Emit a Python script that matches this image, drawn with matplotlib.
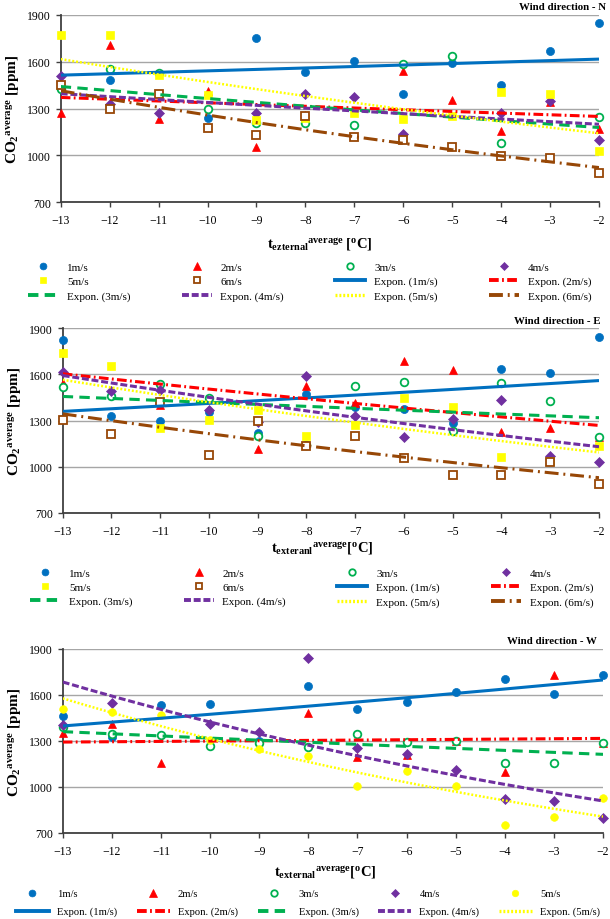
import numpy as np
import matplotlib
matplotlib.use('Agg')
import matplotlib.pyplot as plt
from matplotlib.lines import Line2D

plt.rcParams['font.family'] = ['Liberation Serif', 'DejaVu Serif']
plt.rcParams['mathtext.fontset'] = 'custom'
plt.rcParams['mathtext.rm'] = 'Liberation Serif:bold'
plt.rcParams['mathtext.it'] = 'Liberation Serif:bold'
plt.rcParams['mathtext.bf'] = 'Liberation Serif:bold'
plt.rcParams['lines.scale_dashes'] = False

nan = np.nan
x_vals = list(range(-13, -1))
x_ticks = list(range(-13, -1))
y_ticks = [700, 1000, 1300, 1600, 1900]
speeds = ['1m/s', '2m/s', '3m/s', '4m/s', '5m/s', '6m/s']

# ---- Wind direction N ----
n_1 = [nan, 1482, nan, 1242, 1750, 1536, 1602, 1396, 1589, 1450, 1671, 1849]
n_2 = [1270, 1709, 1231, 1414, 1056, 1257, nan, 1542, 1356, 1156, 1343, 1167]
n_3 = [1424, 1553, 1531, 1296, 1210, 1204, 1195, 1585, 1634, 1081, nan, 1246]
n_4 = [1510, 1328, 1268, nan, 1270, 1392, 1371, 1135, nan, 1270, 1349, 1099]
n_5 = [1774, 1771, 1514, 1386, 1225, 1242, 1270, 1231, 1253, 1409, 1392, 1028]
n_6 = [1450, 1296, 1392, 1178, 1129, 1249, 1114, 1096, 1054, 996, 981, 884]
# exponential trend: value at -13 and at -2
n_trend_start = [1514, 1371, 1441, 1395, 1617, 1414]
n_trend_end = [1617, 1249, 1178, 1199, 1141, 921]

# ---- Wind direction E ----
e_1 = [1822, 1326, 1294, 1354, 1218, 1473, 1388, 1377, 1283, 1632, 1606, 1839]
e_2 = [1543, nan, 1402, 1441, 1116, 1527, 1416, 1686, 1627, 1224, 1250, 1191]
e_3 = [1517, 1456, 1534, 1445, 1198, 1138, 1523, 1547, 1235, 1545, 1425, 1191]
e_4 = [1614, 1491, 1499, 1371, 1289, 1586, 1326, 1191, 1307, 1436, 1072, 1033]
e_5 = [1735, 1655, 1250, 1304, 1369, 1198, 1272, 1449, 1388, 1061, 1039, 1137]
e_6 = [1304, 1211, 1419, 1079, 1300, 1133, 1198, 1057, 946, 946, 1033, 891]
e_trend_start = [1359, 1603, 1456, 1592, 1564, 1343]
e_trend_end = [1559, 1268, 1318, 1130, 1093, 929]

# ---- Wind direction W ----
w_1 = [1463, 1328, 1535, 1543, 1300, 1659, 1507, 1557, 1622, 1702, 1609, 1730]
w_2 = [1354, 1409, 1154, nan, nan, 1485, 1196, 1207, 1300, 1100, 1728, 1285]
w_3 = [1391, 1348, 1337, 1267, 1289, 1263, 1348, 1293, 1300, 1159, 1159, 1285]
w_4 = [1402, 1550, nan, 1409, 1359, 1843, 1257, 1217, 1109, 924, 909, 800]
w_5 = [1511, 1489, 1467, 1304, 1250, 1202, 1007, 1104, 1007, 752, 804, 926]
w_trend_start = [1398, 1293, 1361, 1685, 1578]
w_trend_end = [1698, 1317, 1213, 909, 807]

colors = ['#0070C0', '#FF0000', '#00B050', '#7030A0', '#FFFF00', '#974706']
markers = ['o', '^', 'o', 'D', 's', 's']
filled = [True, True, False, True, True, False]
msizes = [5.8, 6.0, 5.5, 4.6, 5.5, 5.5]
line_styles = ['-', (0, (7, 2.4, 1.3, 2.4)), (0, (7.5, 4.5)), (0, (5, 2)),
               (0, (1.4, 1.4)), (0, (10, 3.5, 1.4, 3.5))]
line_widths = [2.2, 2.2, 2.2, 2.2, 1.8, 2.2]

W, H = 610, 920
fig = plt.figure(figsize=(W / 100, H / 100), dpi=100)


def fx(px):
    return px / W


def fy(py):
    return 1 - py / H


def marker_kw(i, mk=None, scale=1.0):
    mk = mk or markers[i]
    kw = dict(marker=mk, linestyle='none', markersize=msizes[i] * scale,
              markeredgecolor=colors[i], markeredgewidth=1.3 if not filled[i] else 0.5)
    kw['markerfacecolor'] = colors[i] if filled[i] else 'white'
    return kw


def panel(rect, series, t_start, t_end, title, title_xy, xlabel, xlabel_xy,
          leg_xy, ncol, marker_override, handlelen, colspace, labelsp, textpad,
          legfs):
    ax = fig.add_axes(rect)
    n = len(series)
    for i in range(n):
        ax.plot(x_vals, series[i], clip_on=False, zorder=3,
                **marker_kw(i, marker_override.get(i)))
    xs = np.linspace(-13, -2, 200)
    for i in range(n):
        b = np.log(t_end[i] / t_start[i]) / 11.0
        ys = t_start[i] * np.exp(b * (xs + 13))
        ax.plot(xs, ys, color=colors[i], linestyle=line_styles[i],
                linewidth=line_widths[i], zorder=4, solid_capstyle='butt',
                dash_capstyle='butt')
    ax.set_xlim(-13, -2)
    ax.set_ylim(700, 1900)
    ax.set_xticks(x_ticks)
    ax.set_yticks(y_ticks)
    ax.grid(axis='y', color='#A6A6A6', linewidth=1.0, zorder=0)
    ax.set_axisbelow(True)
    for s in ['top', 'right']:
        ax.spines[s].set_visible(False)
    for s in ['left', 'bottom']:
        ax.spines[s].set_color('#404040')
        ax.spines[s].set_linewidth(1.3)
    ax.tick_params(axis='both', labelsize=8.5, colors='#404040',
                   labelcolor='black', length=3.5, width=1)
    ax.tick_params(axis='x', pad=5)
    ax.set_ylabel(r'$\mathregular{CO_2{}^{average}}$ [ppm]', fontsize=11,
                  fontweight='bold', labelpad=4)
    fig.text(fx(title_xy[0]), fy(title_xy[1]), title, ha='right', va='center',
             fontsize=7.8, fontweight='bold')
    fig.text(fx(xlabel_xy[0]), fy(xlabel_xy[1]), xlabel, ha='center',
             va='center', fontsize=10.5, fontweight='bold')
    # legend, row-wise order
    handles, labels = [], []
    for i in range(n):
        handles.append(Line2D([], [], **marker_kw(i, marker_override.get(i), 0.85)))
        labels.append(speeds[i])
    for i in range(n):
        handles.append(Line2D([], [], color=colors[i], linestyle=line_styles[i],
                              linewidth=line_widths[i] + 0.6))
        labels.append('Expon. (' + speeds[i] + ')')
    nrow = int(np.ceil(len(handles) / ncol))
    oh, ol = [], []
    for c in range(ncol):
        for r in range(nrow):
            k = r * ncol + c
            if k < len(handles):
                oh.append(handles[k])
                ol.append(labels[k])
    fig.legend(oh, ol, loc='upper left',
               bbox_to_anchor=(fx(leg_xy[0]), fy(leg_xy[1])), ncol=ncol,
               frameon=False, fontsize=legfs, handlelength=handlelen,
               handletextpad=textpad, columnspacing=colspace,
               labelspacing=labelsp, borderpad=0, borderaxespad=0)
    return ax


panel([fx(60.7), fy(203), fx(599) - fx(60.7), fy(16) - fy(203)],
      [n_1, n_2, n_3, n_4, n_5, n_6], n_trend_start, n_trend_end,
      'Wind direction - N', (606, 8),
      r'$\mathregular{t_{ezternal}{}^{average}}$ [$\mathregular{^o}$C]', (320, 245),
      (28, 263), 4, {}, 2.7, 4.6, 0.42, 0.8, 8)

panel([fx(62.7), fy(514), fx(599) - fx(62.7), fy(329) - fy(514)],
      [e_1, e_2, e_3, e_4, e_5, e_6], e_trend_start, e_trend_end,
      'Wind direction - E', (601, 322),
      r'$\mathregular{t_{exteranl}{}^{average}}$[$\mathregular{^o}$C]', (322, 549),
      (30, 569), 4, {}, 2.7, 4.6, 0.4, 0.8, 8)

panel([fx(62.7), fy(834), fx(603) - fx(62.7), fy(650) - fy(834)],
      [w_1, w_2, w_3, w_4, w_5], w_trend_start, w_trend_end,
      'Wind direction - W', (597, 641),
      r'$\mathregular{t_{external}{}^{average}}$[$\mathregular{^o}$C]', (325, 873),
      (16, 890), 5, {4: 'o'}, 3.1, 1.85, 0.8, 0.8, 7.6)

fig.savefig('out.png', dpi=100)
